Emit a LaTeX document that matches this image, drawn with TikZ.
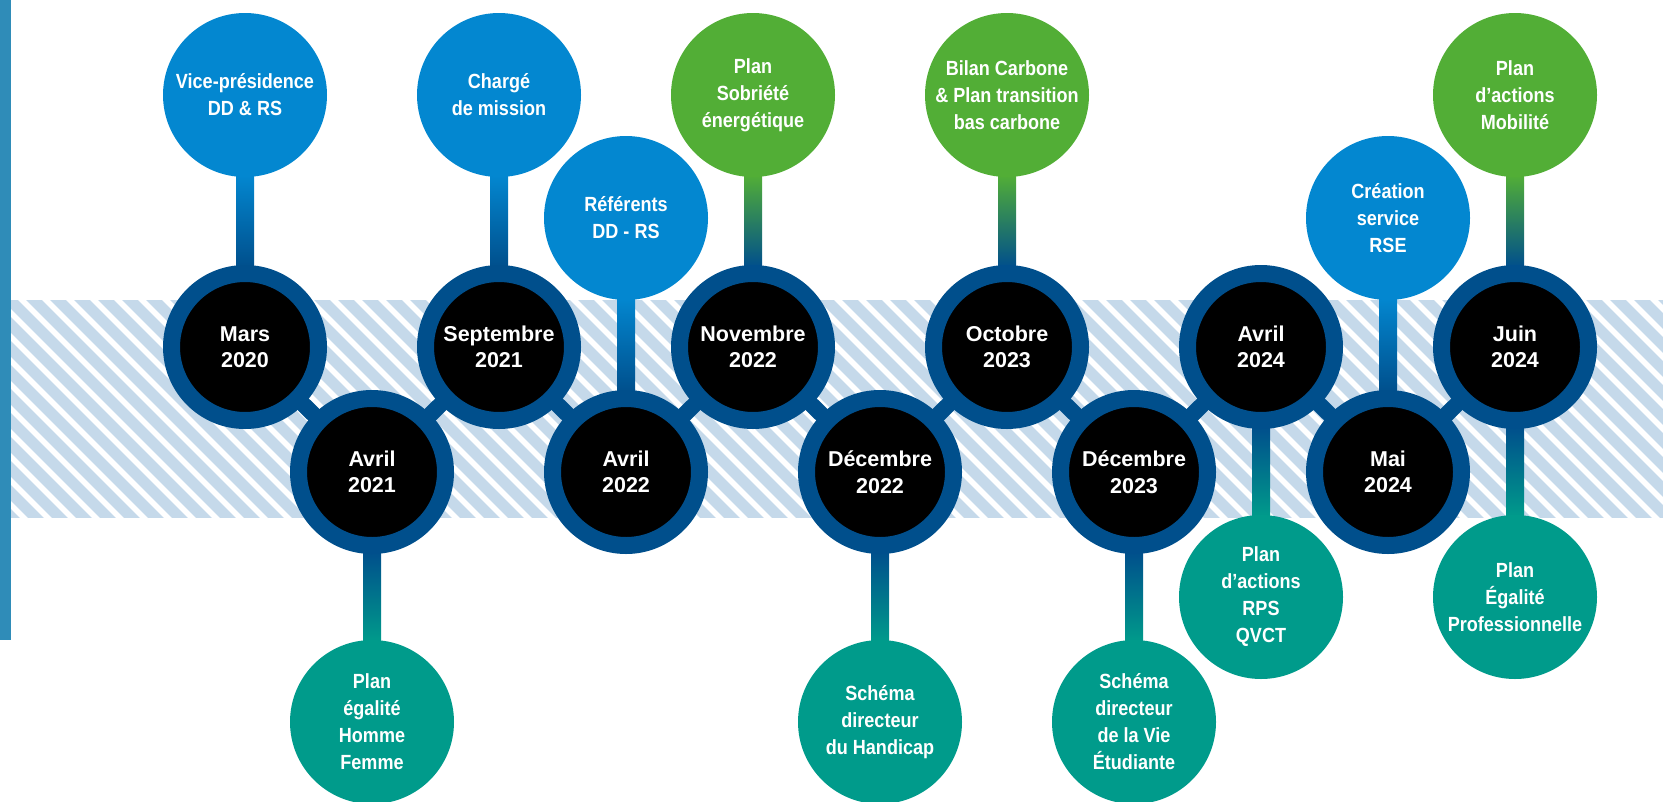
\documentclass[tikz,border=0pt]{standalone}
\usepackage{fontspec}
\setmainfont{Liberation Sans}[FakeStretch=0.88]
\newfontfamily\datefont{Liberation Sans}
\usetikzlibrary{calc}
\definecolor{ringblue}{HTML}{004F8C}
\definecolor{evblue}{HTML}{0387D0}
\definecolor{evgreen}{HTML}{52AE36}
\definecolor{evteal}{HTML}{009B8B}
\definecolor{stripeblue}{HTML}{C5D9EA}
\definecolor{leftbar}{HTML}{2F8CB8}
\pgfdeclarelayer{stripes}
\pgfdeclarelayer{bg}
\pgfsetlayers{stripes,bg,main}
\begin{document}
\begin{tikzpicture}[x=1pt,y=-1pt,
  lbl/.style={text=white,font=\fontsize{20.5}{27}\selectfont\bfseries,align=center,inner sep=0pt},
  datenode/.style={lbl,font=\datefont\fontsize{21.5}{26.5}\selectfont\bfseries,circle,fill=black,draw=ringblue,line width=17pt,minimum size=147pt},
  evnode/.style={lbl,circle,minimum size=164pt,outer sep=0pt},
  bluev/.style={evnode,fill=evblue},
  greenev/.style={evnode,fill=evgreen},
  tealev/.style={evnode,fill=evteal},
  chain/.style={draw=ringblue,line width=16pt},
  stripeline/.style={draw=stripeblue,line width=11pt},
  bluestem/.style={top color=evblue,bottom color=ringblue},
  greenstem/.style={top color=evgreen,middle color=evteal,bottom color=ringblue},
  tealstem/.style={top color=ringblue,middle color=ringblue!45!evteal,bottom color=evteal}
]
\useasboundingbox (0,0) rectangle (1663,801);

% date nodes
\node[datenode] (mars)  at (245,347)  {Mars\\2020};
\node[datenode] (avr21) at (372,472)  {Avril\\2021};
\node[datenode] (sep21) at (499,347)  {Septembre\\2021};
\node[datenode] (avr22) at (626,472)  {Avril\\2022};
\node[datenode] (nov22) at (753,347)  {Novembre\\2022};
\node[datenode] (dec22) at (880,472)  {Décembre\\2022};
\node[datenode] (oct23) at (1007,347) {Octobre\\2023};
\node[datenode] (dec23) at (1134,472) {Décembre\\2023};
\node[datenode] (avr24) at (1261,347) {Avril\\2024};
\node[datenode] (mai24) at (1388,472) {Mai\\2024};
\node[datenode] (jui24) at (1515,347) {Juin\\2024};

% event nodes
\node[bluev]   (vp)   at (245,95)   {Vice-présidence\\DD \& RS};
\node[bluev]   (cm)   at (499,95)   {Chargé\\de mission};
\node[bluev]   (ref)  at (626,218)  {Référents\\DD - RS};
\node[greenev] (sob)  at (753,95)   {Plan\\Sobriété\\énergétique};
\node[greenev] (bc)   at (1007,95)  {Bilan Carbone\\\& Plan transition\\bas carbone};
\node[bluev]   (rse)  at (1388,218) {Création\\service\\RSE};
\node[greenev] (mob)  at (1515,95)  {Plan\\d’actions\\Mobilité};
\node[tealev]  (phf)  at (372,722)  {Plan\\égalité\\Homme\\Femme};
\node[tealev]  (hand) at (880,722)  {Schéma\\directeur\\du Handicap};
\node[tealev]  (vie)  at (1134,722) {Schéma\\directeur\\de la Vie\\Étudiante};
\node[tealev]  (rps)  at (1261,597) {Plan\\d’actions\\RPS\\QVCT};
\node[tealev]  (pro)  at (1515,597) {Plan\\Égalité\\Professionnelle};

\begin{pgfonlayer}{stripes}
  \fill[leftbar] (0,0) rectangle (11,640);
  \begin{scope}
    \clip (11,300) rectangle (1663,517);
    \foreach \i in {-264,-240,...,1690}
      \draw[stripeline] (\i,290) -- ++(240,240);
  \end{scope}
\end{pgfonlayer}

\begin{pgfonlayer}{bg}
  \draw[chain] (mars.center) -- (avr21.center) -- (sep21.center) -- (avr22.center)
    -- (nov22.center) -- (dec22.center) -- (oct23.center) -- (dec23.center)
    -- (avr24.center) -- (mai24.center) -- (jui24.center);
  % upper stems
  \shade[bluestem]  ($(vp.south)+(-9,-2)$)  rectangle ($(mars.north)+(9,2)$);
  \shade[bluestem]  ($(cm.south)+(-9,-2)$)  rectangle ($(sep21.north)+(9,2)$);
  \shade[bluestem]  ($(ref.south)+(-9,-2)$) rectangle ($(avr22.north)+(9,2)$);
  \shade[greenstem] ($(sob.south)+(-9,-2)$) rectangle ($(nov22.north)+(9,2)$);
  \shade[greenstem] ($(bc.south)+(-9,-2)$)  rectangle ($(oct23.north)+(9,2)$);
  \shade[bluestem]  ($(rse.south)+(-9,-2)$) rectangle ($(mai24.north)+(9,2)$);
  \shade[greenstem] ($(mob.south)+(-9,-2)$) rectangle ($(jui24.north)+(9,2)$);
  % lower stems
  \shade[tealstem] ($(avr21.south)+(-9,-2)$) rectangle ($(phf.north)+(9,2)$);
  \shade[tealstem] ($(dec22.south)+(-9,-2)$) rectangle ($(hand.north)+(9,2)$);
  \shade[tealstem] ($(dec23.south)+(-9,-2)$) rectangle ($(vie.north)+(9,2)$);
  \shade[tealstem] ($(avr24.south)+(-9,-2)$) rectangle ($(rps.north)+(9,2)$);
  \shade[tealstem] ($(jui24.south)+(-9,-2)$) rectangle ($(pro.north)+(9,2)$);
\end{pgfonlayer}
\end{tikzpicture}
\end{document}
